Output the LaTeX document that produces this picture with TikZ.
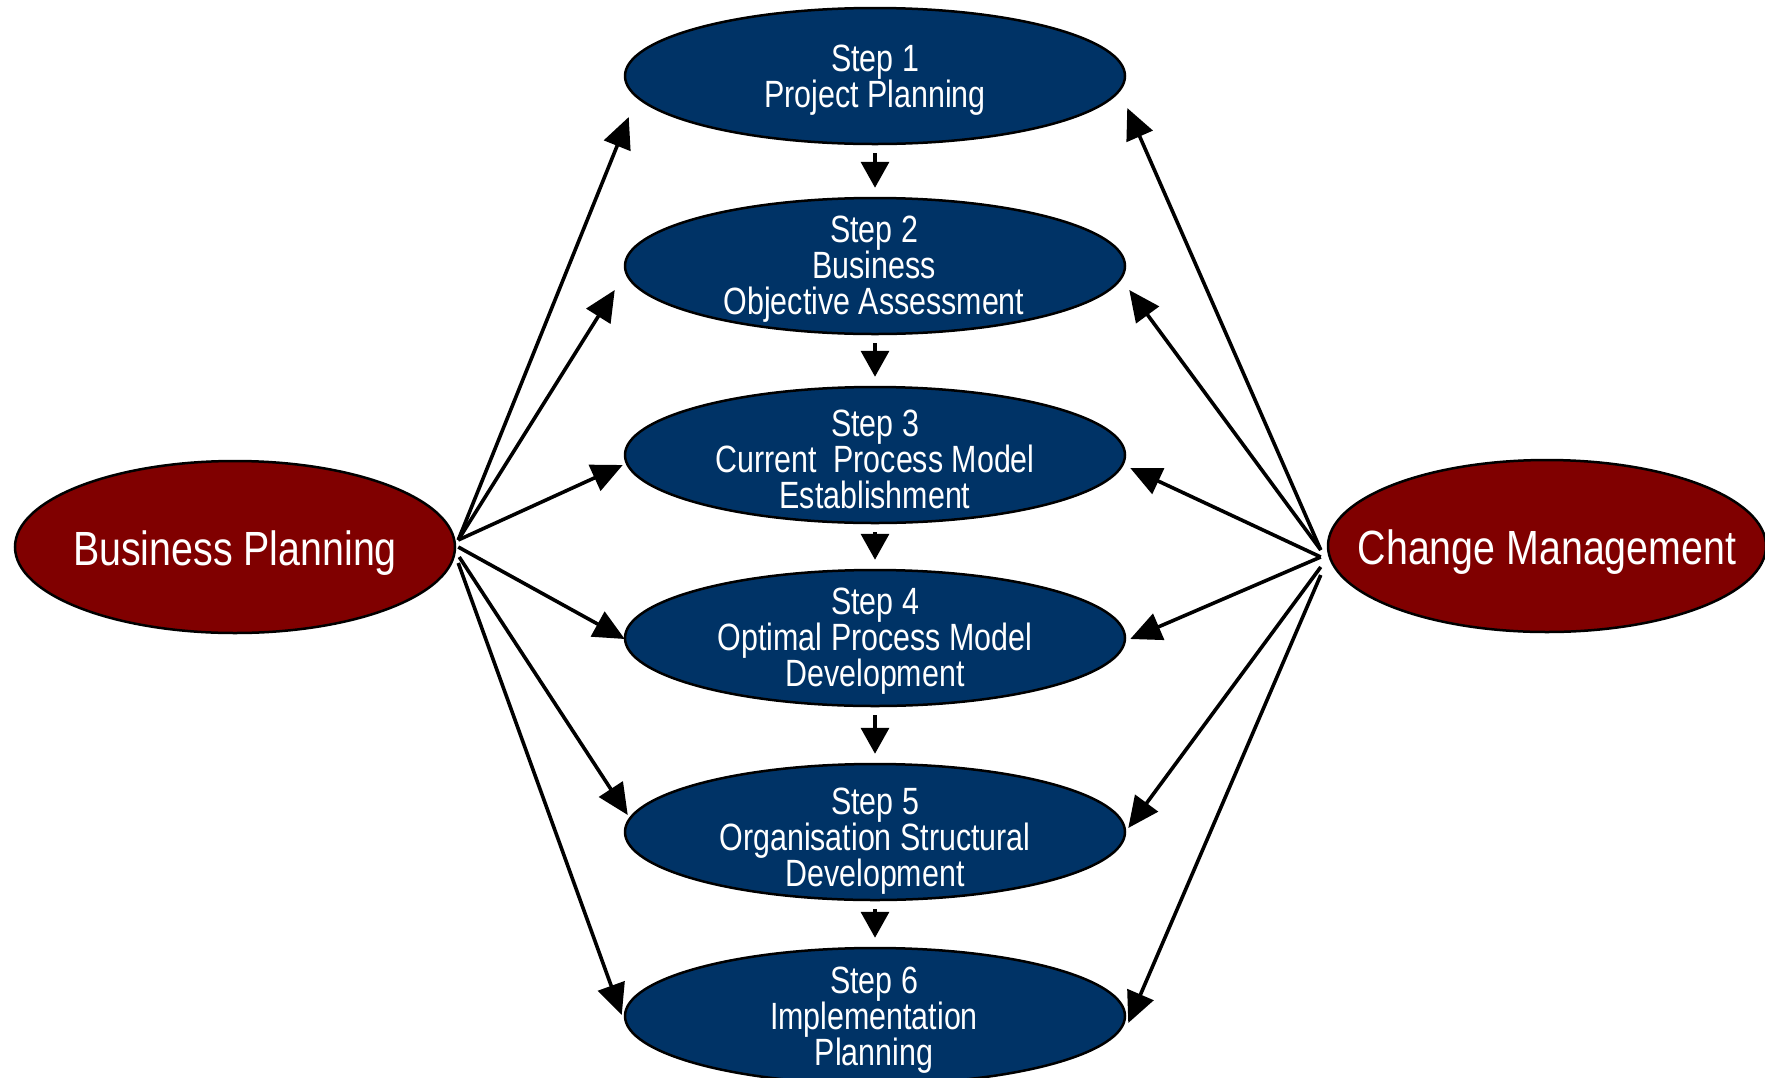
\documentclass[tikz,border=0pt]{standalone}
\usepackage{fontspec}
\newfontfamily\narrowfont{Liberation Sans}[FakeStretch=0.8]
\newfontfamily\widerfont{Liberation Sans}[FakeStretch=0.82]
\usetikzlibrary{arrows.meta,shapes.geometric}
\definecolor{stepblue}{RGB}{0,51,102}
\definecolor{sidered}{RGB}{128,0,0}
\begin{document}
\begin{tikzpicture}[x=1pt,y=-1pt,
  stepbox/.style={ellipse,draw=black,line width=2.5pt,fill=stepblue,minimum width=500pt,minimum height=136pt,inner sep=0pt},
  sidebox/.style={ellipse,draw=black,line width=2.5pt,fill=sidered,minimum width=440pt,minimum height=172pt,inner sep=0pt},
  steptext/.style={text=white,align=center,inner sep=0pt,font=\narrowfont\fontsize{38}{36}\selectfont},
  sidetext/.style={text=white,align=center,inner sep=0pt,font=\widerfont\fontsize{48}{50}\selectfont},
  link/.style={line width=3.6pt,-{Triangle[length=31pt,width=28pt]}},
  flow/.style={line width=3.6pt,-{Triangle[length=26pt,width=28pt]},shorten <=8pt,shorten >=9pt}
]
\clip (0,0) rectangle (1765,1077);
\fill[white] (0,0) rectangle (1765,1077);

% step ellipses
\node[stepbox] (s1) at (875,76) {};
\node[stepbox] (s2) at (875,266) {};
\node[stepbox] (s3) at (875,455) {};
\node[stepbox] (s4) at (875,638) {};
\node[stepbox] (s5) at (875,832) {};
\node[stepbox] (s6) at (875,1016) {};

\node[steptext] (t1) at (875,80) {Step 1\\Project Planning};
\node[steptext] (t2) at (874,269) {Step 2\\Business\\Objective Assessment};
\node[steptext] (t3) at (875,459) {Step 3\\Current\ \ Process Model\\Establishment};
\node[steptext] (t4) at (875,641) {Step 4\\Optimal Process Model\\Development};
\node[steptext] (t5) at (875,841) {Step 5\\Organisation Structural\\Development};
\node[steptext] (t6) at (874,1020) {Step 6\\Implementation\\Planning};

% side ellipses
\node[sidebox] (bp) at (235,547) {};
\node[sidetext] (bpt) at (235,553) {Business Planning};
\node[sidebox,minimum width=438pt] (cm) at (1547,546) {};
\node[sidetext] (cmt) at (1547,552) {Change Management};

% vertical flow arrows
\draw[flow] (s1.south) -- (s2.north);
\draw[flow] (s2.south) -- (s3.north);
\draw[flow] (s3.south) -- (s4.north);
\draw[flow] (s4.south) -- (s5.north);
\draw[flow] (s5.south) -- (s6.north);

% business planning arrows
\draw[link] ([shift={(2,-7)}]bp.east) -- ([shift={(5,41)}]s1.west);
\draw[link] ([shift={(2,-7)}]bp.east) -- ([shift={(-9,24)}]s2.west);
\draw[link] ([shift={(2,-7)}]bp.east) -- ([shift={(-1,10)}]s3.west);
\draw[link] ([shift={(2,0)}]bp.east) -- ([shift={(1,1)}]s4.west);
\draw[link] ([shift={(3,10)}]bp.east) -- ([shift={(4,-17)}]s5.west);
\draw[link] ([shift={(2,16)}]bp.east) -- ([shift={(-2,-1)}]s6.west);

% change management arrows
\draw[link] ([shift={(-6,4)}]cm.west) -- ([shift={(1,32)}]s1.east);
\draw[link] ([shift={(-6,4)}]cm.west) -- ([shift={(3,24)}]s2.east);
\draw[link] ([shift={(-6,11)}]cm.west) -- ([shift={(4,13)}]s3.east);
\draw[link] ([shift={(-6,11)}]cm.west) -- ([shift={(4,1)}]s4.east);
\draw[link] ([shift={(-6,21)}]cm.west) -- ([shift={(2,-4)}]s5.east);
\draw[link] ([shift={(-6,29)}]cm.west) -- ([shift={(2,7)}]s6.east);
\end{tikzpicture}
\end{document}
